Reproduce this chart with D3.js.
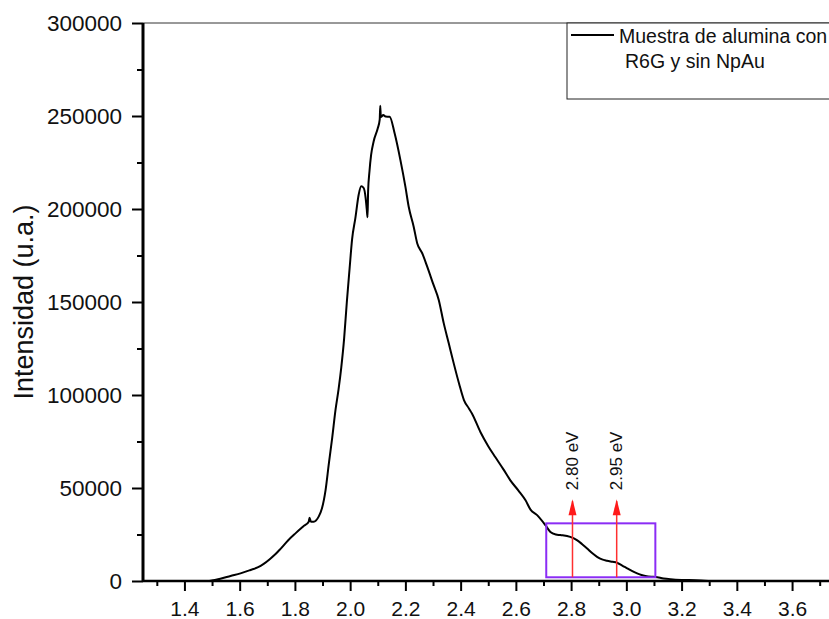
<!DOCTYPE html>
<html>
<head>
<meta charset="utf-8">
<script src="https://cdn.jsdelivr.net/npm/d3@7"></script>
<style>
  html, body { margin: 0; padding: 0; background: #fff; }
  svg { display: block; font-family: Arial, "Liberation Sans", sans-serif; }
</style>
</head>
<body>
<svg id="chart" width="829" height="619"></svg>
<script>
// ---- data ----
const energy = [1.49, 1.50, 1.53, 1.567, 1.603, 1.639, 1.665, 1.687, 1.711, 1.730, 1.748, 1.775, 1.802, 1.83, 1.850, 1.853, 1.858, 1.868, 1.886, 1.898, 1.911, 1.923, 1.935, 1.947, 1.958, 1.968, 1.978, 1.988, 1.998, 2.007, 2.019, 2.031, 2.040, 2.049, 2.056, 2.060, 2.063, 2.065, 2.070, 2.076, 2.085, 2.100, 2.107, 2.109, 2.111, 2.120, 2.128, 2.143, 2.161, 2.182, 2.200, 2.212, 2.230, 2.243, 2.261, 2.279, 2.300, 2.321, 2.339, 2.357, 2.375, 2.394, 2.412, 2.430, 2.441, 2.472, 2.50, 2.526, 2.555, 2.580, 2.610, 2.635, 2.653, 2.677, 2.707, 2.725, 2.745, 2.761, 2.797, 2.821, 2.840, 2.858, 2.876, 2.894, 2.912, 2.930, 2.950, 2.966, 2.985, 3.003, 3.020, 3.039, 3.055, 3.069, 3.090, 3.105, 3.135, 3.16, 3.20, 3.25, 3.297];
const intensity = [0, 300, 1200, 2700, 4100, 5900, 7300, 9200, 12000, 14500, 17300, 21800, 25600, 29300, 31900, 34000, 31900, 31900, 34600, 39100, 48900, 63300, 77000, 92000, 103000, 115000, 130000, 150000, 168000, 183700, 195200, 207800, 212200, 211300, 206000, 200000, 195500, 209500, 220300, 229200, 236300, 243400, 248000, 255500, 249500, 250500, 249700, 249600, 240700, 226300, 212000, 201200, 190500, 181500, 176200, 169000, 160000, 151000, 138500, 127800, 117000, 106300, 97300, 92800, 90100, 80000, 72500, 66500, 60000, 54100, 48500, 43400, 38400, 35400, 30000, 26400, 25000, 24700, 23700, 22000, 19800, 17500, 15000, 13000, 11600, 10900, 10300, 9800, 8300, 6800, 5400, 4100, 3200, 2700, 2300, 2200, 1400, 1000, 600, 400, 0];

const xTicks = [1.4, 1.6, 1.8, 2.0, 2.2, 2.4, 2.6, 2.8, 3.0, 3.2, 3.4, 3.6];
const xMinorTicks = [1.3, 1.5, 1.7, 1.9, 2.1, 2.3, 2.5, 2.7, 2.9, 3.1, 3.3, 3.5, 3.7];
const yTicks = [0, 50000, 100000, 150000, 200000, 250000, 300000];
const yMinorTicks = [25000, 75000, 125000, 175000, 225000, 275000];

const legendLines = ["Muestra de alumina con", "R6G y sin NpAu"];
const yLabel = "Intensidad (u.a.)";

const markEnergies = [2.805, 2.965];
const markLabels = ["2.80 eV", "2.95 eV"];
const markRange = [2000, 44000];
const boxEnergy = [2.71, 3.105];
const boxIntensity = [2000, 31000];

// ---- layout ----
const svg = d3.select("#chart");
const x = d3.scaleLinear().domain([1.25, 3.75]).range([143, 833.5]);
const y = d3.scaleLinear().domain([0, 300000]).range([581, 23]);

// top frame line
svg.append("line")
  .attr("x1", x(1.25)).attr("x2", 840)
  .attr("y1", y(300000)).attr("y2", y(300000))
  .attr("stroke", "#333").attr("stroke-width", 1);

// curve
const pts = energy.map((e, i) => [e, intensity[i]]);
svg.append("path")
  .datum(pts)
  .attr("fill", "none")
  .attr("stroke", "#000")
  .attr("stroke-width", 2)
  .attr("stroke-linejoin", "round")
  .attr("d", d3.line().curve(d3.curveMonotoneX).x(d => x(d[0])).y(d => y(d[1])));

// annotation box
svg.append("rect")
  .attr("x", x(boxEnergy[0]))
  .attr("y", y(boxIntensity[1]))
  .attr("width", x(boxEnergy[1]) - x(boxEnergy[0]))
  .attr("height", y(boxIntensity[0]) - y(boxIntensity[1]))
  .attr("fill", "none")
  .attr("stroke", "#8b2cf5")
  .attr("stroke-width", 2);

// arrows
markEnergies.forEach((e, i) => {
  svg.append("line")
    .attr("x1", x(e)).attr("x2", x(e))
    .attr("y1", y(markRange[0])).attr("y2", y(markRange[1]) + 2)
    .attr("stroke", "#ff3030").attr("stroke-width", 1.5);
  svg.append("path")
    .attr("d", `M${x(e) - 4},${y(markRange[1]) + 16} L${x(e)},${y(markRange[1])} L${x(e) + 4},${y(markRange[1]) + 16} Z`)
    .attr("fill", "#ff1a1a");
  svg.append("text")
    .attr("transform", `translate(${x(e) + 5.5},${y(markRange[1]) - 9}) rotate(-90)`)
    .attr("font-size", 17)
    .attr("fill", "#111")
    .text(markLabels[i]);
});

// y axis
const yAxis = svg.append("g").attr("transform", `translate(${x(1.25)},0)`)
  .call(d3.axisLeft(y).tickValues(yTicks).tickSize(11).tickPadding(10).tickFormat(d3.format("d")));
const yMinor = svg.append("g").attr("transform", `translate(${x(1.25)},0)`)
  .call(d3.axisLeft(y).tickValues(yMinorTicks).tickSize(6).tickFormat(""));
yMinor.select(".domain").remove();
yAxis.select(".domain").remove();
yAxis.selectAll("text").attr("font-size", 22.5).attr("font-family", "Arial, 'Liberation Sans', sans-serif").attr("fill", "#111");

// x axis
const xAxis = svg.append("g").attr("transform", `translate(0,${y(0)})`)
  .call(d3.axisBottom(x).tickValues(xTicks).tickSize(10).tickPadding(10).tickFormat(d3.format(".1f")));
xAxis.select(".domain").remove();
const xMinor = svg.append("g").attr("transform", `translate(0,${y(0)})`)
  .call(d3.axisBottom(x).tickValues(xMinorTicks).tickSize(5).tickFormat(""));
xMinor.select(".domain").remove();
xAxis.selectAll("text").attr("font-size", 21).attr("font-family", "Arial, 'Liberation Sans', sans-serif").attr("fill", "#111");
svg.selectAll(".tick line").attr("stroke", "#000").attr("stroke-width", 2);

// axis lines
svg.append("line")
  .attr("x1", x(1.25)).attr("x2", 840)
  .attr("y1", y(0)).attr("y2", y(0))
  .attr("stroke", "#000").attr("stroke-width", 2.5);
svg.append("line")
  .attr("x1", x(1.25)).attr("x2", x(1.25))
  .attr("y1", y(0) + 1).attr("y2", y(300000))
  .attr("stroke", "#000").attr("stroke-width", 3);

// y label
svg.append("text")
  .attr("transform", `translate(33,${(y(0) + y(300000)) / 2}) rotate(-90)`)
  .attr("text-anchor", "middle")
  .attr("font-size", 27)
  .attr("fill", "#111")
  .text(yLabel);

// legend
const lg = svg.append("g");
lg.append("rect")
  .attr("x", 567).attr("y", y(300000))
  .attr("width", 300).attr("height", 76)
  .attr("fill", "#fff").attr("stroke", "#222").attr("stroke-width", 1);
lg.append("line")
  .attr("x1", 571).attr("x2", 614).attr("y1", 35).attr("y2", 35)
  .attr("stroke", "#000").attr("stroke-width", 2);
lg.append("text").attr("x", 619).attr("y", 43).attr("font-size", 19.5).attr("fill", "#111").text(legendLines[0]);
lg.append("text").attr("x", 625).attr("y", 68).attr("font-size", 19.5).attr("fill", "#111").text(legendLines[1]);
</script>
</body>
</html>
